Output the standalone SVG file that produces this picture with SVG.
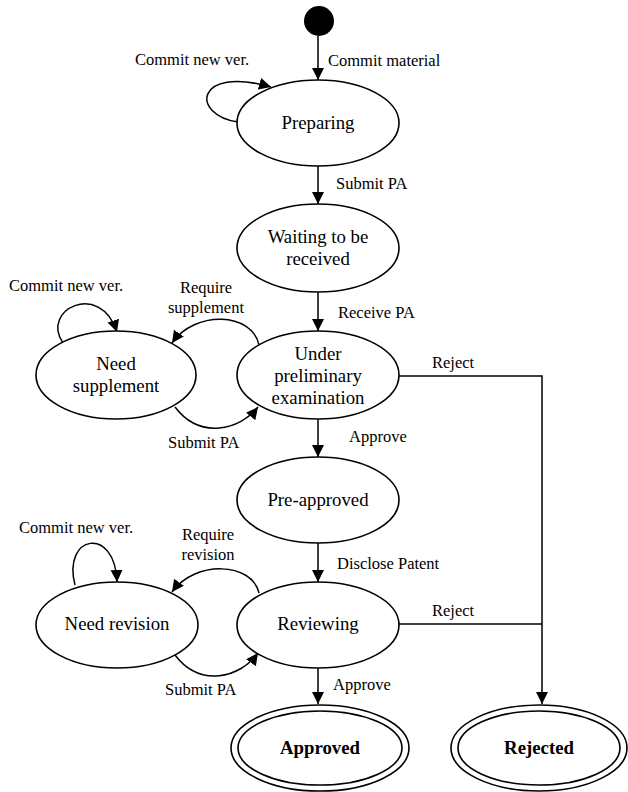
<svg xmlns="http://www.w3.org/2000/svg" width="628" height="792" viewBox="0 0 628 792">
<style>
.st{fill:#fff;stroke:#000;stroke-width:1.6}
.nl{font-family:"Liberation Serif","Times New Roman",serif;font-size:18.8px;text-anchor:middle;fill:#000}
.bl{font-weight:bold}
.el{font-family:"Liberation Serif","Times New Roman",serif;font-size:16.5px;fill:#000}
.c{fill:none;stroke:#000;stroke-width:1.5}
.m{text-anchor:middle}
</style>
<defs>
<marker id="arr" markerUnits="userSpaceOnUse" markerWidth="13" markerHeight="13" refX="12" refY="6" orient="auto">
<path d="M0,0 L12,6 L0,12 z" fill="#000"/>
</marker>
</defs>
<rect width="628" height="792" fill="#fff"/>
<g id="connectors">
<path class="c" d="M318 36 L318 80" marker-end="url(#arr)"/>
<path class="c" d="M318 166 L318 204" marker-end="url(#arr)"/>
<path class="c" d="M318 292 L318 331" marker-end="url(#arr)"/>
<path class="c" d="M318 419 L318 457" marker-end="url(#arr)"/>
<path class="c" d="M318 543 L318 582" marker-end="url(#arr)"/>
<path class="c" d="M318 668 L318 704" marker-end="url(#arr)"/>
<path class="c" d="M399 376 L542 376 L542 704" marker-end="url(#arr)"/>
<path class="c" d="M399 624 L542 624"/>
<path class="c" d="M238 122 C190 115 195 65 271 87" marker-end="url(#arr)"/>
<path class="c" d="M63 343 C40 310 100 280 117 332" marker-end="url(#arr)"/>
<path class="c" d="M259 345 C252 312 195 310 172 343" marker-end="url(#arr)"/>
<path class="c" d="M175 407 C200 440 240 430 258 407" marker-end="url(#arr)"/>
<path class="c" d="M75 585 C62 535 115 525 117 582" marker-end="url(#arr)"/>
<path class="c" d="M259 593 C252 562 195 560 172 592" marker-end="url(#arr)"/>
<path class="c" d="M175 655 C200 688 240 678 258 653" marker-end="url(#arr)"/>
<text class="el" x="328" y="66">Commit material</text>
<text class="el" x="135" y="65">Commit new ver.</text>
<text class="el" x="336" y="189">Submit PA</text>
<text class="el" x="338" y="318">Receive PA</text>
<text class="el" x="9" y="291">Commit new ver.</text>
<text class="el m" x="206" y="293">Require</text>
<text class="el m" x="206" y="313">supplement</text>
<text class="el" x="168" y="448">Submit PA</text>
<text class="el" x="432" y="368">Reject</text>
<text class="el" x="349" y="442">Approve</text>
<text class="el" x="337" y="569">Disclose Patent</text>
<text class="el" x="19" y="533">Commit new ver.</text>
<text class="el m" x="208" y="540">Require</text>
<text class="el m" x="208" y="560">revision</text>
<text class="el" x="432" y="616">Reject</text>
<text class="el" x="165" y="695">Submit PA</text>
<text class="el" x="333" y="690">Approve</text>
</g>
<g id="start"><circle cx="319" cy="21" r="15" fill="#000"/></g>
<g id="preparing"><ellipse class="st" cx="318" cy="123" rx="81" ry="43"/><text class="nl" x="318" y="129">Preparing</text></g>
<g id="waiting"><ellipse class="st" cx="318" cy="248" rx="81" ry="44"/><text class="nl" x="318" y="243">Waiting to be</text><text class="nl" x="318" y="265">received</text></g>
<g id="under"><ellipse class="st" cx="318" cy="375" rx="81" ry="44"/><text class="nl" x="318" y="360">Under</text><text class="nl" x="318" y="382">preliminary</text><text class="nl" x="318" y="404">examination</text></g>
<g id="needsupp"><ellipse class="st" cx="116" cy="375" rx="80" ry="44"/><text class="nl" x="116" y="370">Need</text><text class="nl" x="116" y="392">supplement</text></g>
<g id="preapproved"><ellipse class="st" cx="318" cy="500" rx="81" ry="43"/><text class="nl" x="318" y="506">Pre-approved</text></g>
<g id="reviewing"><ellipse class="st" cx="318" cy="625" rx="81" ry="43"/><text class="nl" x="318" y="630">Reviewing</text></g>
<g id="needrev"><ellipse class="st" cx="117" cy="625" rx="81" ry="43"/><text class="nl" x="117" y="630">Need revision</text></g>
<g id="approved"><ellipse class="st" cx="320" cy="748" rx="89" ry="43"/><ellipse class="st" cx="320" cy="748" rx="82" ry="37"/><text class="nl bl" x="320" y="754">Approved</text></g>
<g id="rejected"><ellipse class="st" cx="539" cy="748" rx="88" ry="43"/><ellipse class="st" cx="539" cy="748" rx="81" ry="37"/><text class="nl bl" x="539" y="754">Rejected</text></g>
</svg>
